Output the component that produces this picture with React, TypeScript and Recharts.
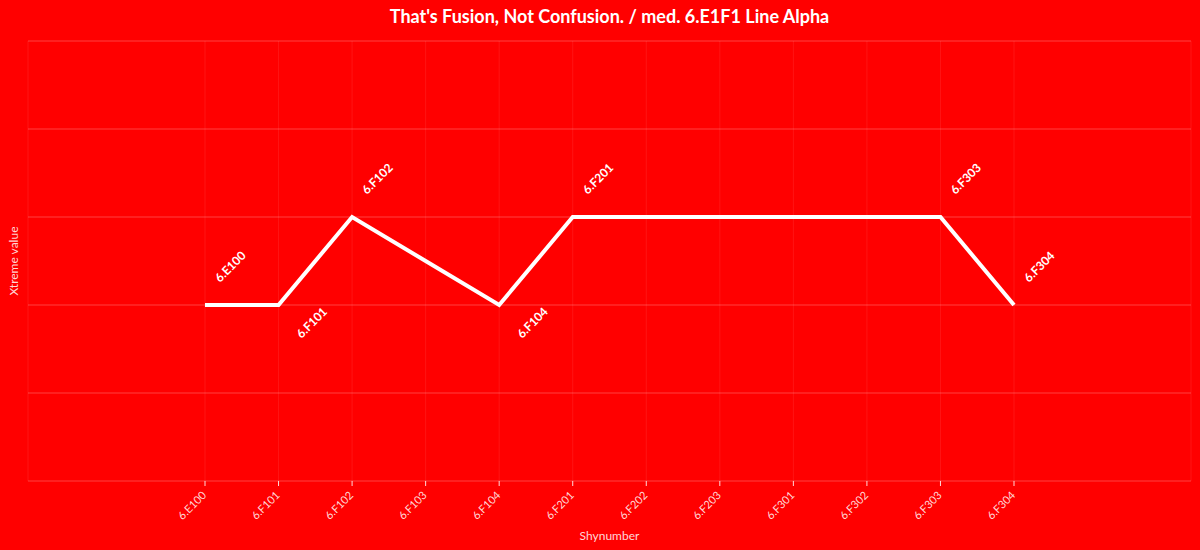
import React from "react";
import {
  LineChart,
  Line,
  XAxis,
  YAxis,
  CartesianGrid,
  LabelList,
  Label,
} from "recharts";

const categories = [
  "6.E100",
  "6.F101",
  "6.F102",
  "6.F103",
  "6.F104",
  "6.F201",
  "6.F202",
  "6.F203",
  "6.F301",
  "6.F302",
  "6.F303",
  "6.F304",
];
const values = [2, 2, 3, 2.5, 2, 3, 3, 3, 3, 3, 3, 2];
// where the point's annotation sits: above, below or none
const notes = ["up", "down", "up", null, "down", "up", null, null, null, null, "up", "up"];
const yTicks = [0, 1, 2, 3, 4, 5];

const data = categories.map((c, i) => ({ name: c, value: values[i], note: notes[i] }));

const FONT = "Lato, 'Noto Sans', sans-serif";

function PointNote(props: any) {
  const { x, y, index } = props;
  const n = notes[index];
  if (!n) return null;
  const tx = n === "up" ? x + 15 : x + 23;
  const ty = n === "up" ? y - 22 : y + 34;
  return (
    <text
      x={tx}
      y={ty}
      transform={`rotate(-45 ${tx} ${ty})`}
      fill="#ffffff"
      fontSize={12}
      fontWeight={700}
      fontFamily={FONT}
    >
      {categories[index]}
    </text>
  );
}

function Tick(props: any) {
  const { x, y, payload } = props;
  return (
    <text
      x={x + 2}
      y={y + 8}
      transform={`rotate(-45 ${x + 2} ${y + 8})`}
      textAnchor="end"
      fill="rgba(255,255,255,0.85)"
      fontSize={11}
      fontFamily={FONT}
    >
      {payload.value}
    </text>
  );
}

export default function App() {
  return (
    <div
      style={{
        position: "absolute",
        left: 0,
        top: 0,
        width: 1200,
        height: 550,
        background: "#ff0000",
        fontFamily: FONT,
        overflow: "hidden",
      }}
    >
      <div
        style={{
          position: "absolute",
          top: 5,
          left: 0,
          width: 1219,
          textAlign: "center",
          color: "#ffffff",
          fontWeight: 700,
          fontSize: 18,
        }}
      >
        That's Fusion, Not Confusion. / med. 6.E1F1 Line Alpha
      </div>
      <div
        style={{
          position: "absolute",
          left: 13,
          top: 261,
          transform: "translate(-50%, -50%) rotate(-90deg)",
          color: "rgba(255,255,255,0.85)",
          fontSize: 12,
          whiteSpace: "nowrap",
        }}
      >
        Xtreme value
      </div>
      <LineChart
        width={1200}
        height={550}
        data={data}
        margin={{ top: 41, right: 9, bottom: 0, left: 28 }}
      >
        <CartesianGrid horizontal={false} stroke="rgba(255,255,255,0.08)" />
        <CartesianGrid vertical={false} stroke="rgba(255,255,255,0.25)" />
        <XAxis
          dataKey="name"
          padding={{ left: 177, right: 177 }}
          height={69}
          axisLine={false}
          tickSize={5}
          tickLine={{ stroke: "rgba(255,255,255,0.85)" }}
          tick={<Tick />}
          interval={0}
        >
          <Label
            value="Shynumber"
            position="insideBottom"
            offset={10}
            fill="rgba(255,255,255,0.85)"
            fontSize={12}
            fontFamily={FONT}
          />
        </XAxis>
        <YAxis hide domain={[0, 5]} ticks={yTicks} />
        <Line
          dataKey="value"
          stroke="#ffffff"
          strokeWidth={4}
          dot={false}
          activeDot={false}
          isAnimationActive={false}
        >
          <LabelList dataKey="value" content={<PointNote />} />
        </Line>
      </LineChart>
    </div>
  );
}
